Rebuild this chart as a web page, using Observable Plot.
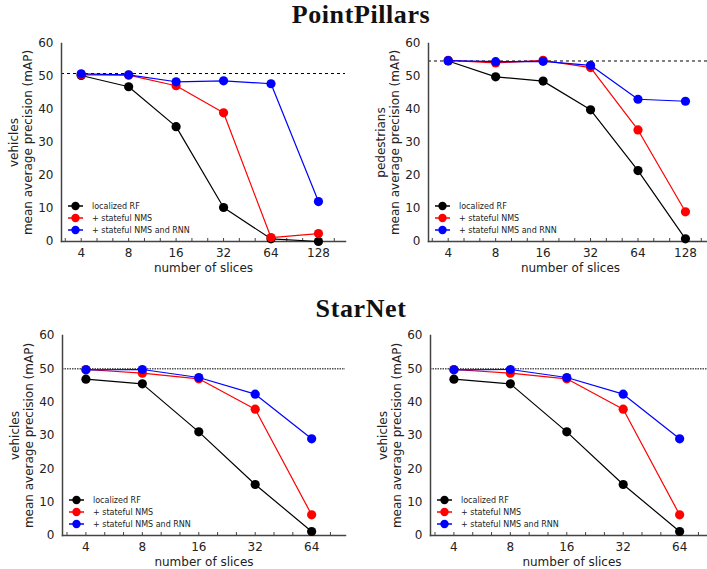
<!DOCTYPE html>
<html>
<head>
<meta charset="utf-8">
<script src="https://cdn.jsdelivr.net/npm/d3@7"></script>
<script src="https://cdn.jsdelivr.net/npm/@observablehq/plot@0.6"></script>
<style>
  html, body { margin: 0; padding: 0; background: #fff; overflow: hidden; }
  #root { position: relative; width: 707px; height: 569px; overflow: hidden; background: #fff; }
  .title { position: absolute; left: 0; width: 722px; text-align: center; font-family: "Liberation Serif", serif; font-weight: bold; font-size: 26px; letter-spacing: 0.6px; color: #111; line-height: 1; }
  .panel { position: absolute; width: 360px; }
  .panel svg { display: block; max-width: none !important; }
  .legend { position: absolute; }
</style>
</head>
<body>
<div id="root">
  <div class="title" style="top:2px">PointPillars</div>
  <div class="title" style="top:296px">StarNet</div>
</div>
<script>
// ---- data ----
const seriesNames = ["localized RF", "+ stateful NMS", "+ stateful NMS and RNN"];
const slicesPP = [4, 8, 16, 32, 64, 128];
const slicesSN = [4, 8, 16, 32, 64];

// PointPillars, vehicles
const ppVehRF  = [50.3, 46.9, 34.8, 10.3, 0.8, 0.0];
const ppVehNMS = [50.5, 50.4, 47.2, 39.0, 1.2, 2.4];
const ppVehRNN = [50.8, 50.5, 48.4, 48.7, 47.8, 12.1];
const ppVehRef = 50.9;

// PointPillars, pedestrians
const ppPedRF  = [54.7, 49.9, 48.6, 39.9, 21.5, 0.8];
const ppPedNMS = [54.9, 54.1, 54.9, 52.7, 33.8, 9.0];
const ppPedRNN = [54.8, 54.5, 54.6, 53.4, 43.1, 42.5];
const ppPedRef = 54.7;

// StarNet, vehicles
const snVehRF  = [46.9, 45.5, 31.1, 15.3, 1.2];
const snVehNMS = [49.8, 48.7, 47.0, 37.9, 6.2];
const snVehRNN = [49.7, 49.8, 47.4, 42.4, 29.0];
const snVehRef = 50.0;

const yTicks = [0, 10, 20, 30, 40, 50, 60];
const minorTicksPP = [3.17, 4, 5.04, 6.35, 8, 10.08, 12.7, 16, 20.16, 25.4, 32, 40.3, 50.8, 64, 80.6, 101.6, 128, 161.3];
const minorTicksSN = [3.17, 4, 5.04, 6.35, 8, 10.08, 12.7, 16, 20.16, 25.4, 32, 40.3, 50.8, 64, 80.6];

// ---- styles ----
const seriesColors = ["#000000", "#ff0000", "#0000ff"];
const axisColor = "#444";
const FONT = "DejaVu Sans";

function panel(opts) {
  const {slices, series, ref, refStroke, refDash, refWidth, ylabel, xDomain, marginLeft, marginTop, plotW, plotH, marginBottom, minor} = opts;
  const data = series.flatMap((vals, i) => vals.map((v, j) => ({slices: slices[j], map: v, s: seriesNames[i]})));
  const width = marginLeft + plotW + 6;
  const marks = [
    Plot.ruleY([ref], {stroke: refStroke, strokeDasharray: refDash, strokeWidth: refWidth}),
    Plot.axisX({ticks: minor, tickSize: -3, tickFormat: () => "", label: null, stroke: axisColor, strokeWidth: 1}),
    Plot.frame({anchor: "left", stroke: axisColor, strokeWidth: 1.5}),
    Plot.frame({anchor: "bottom", stroke: axisColor, strokeWidth: 1.5}),
    Plot.axisY({ticks: yTicks, tickSize: 0, tickPadding: 8, label: null, fontSize: 12}),
    Plot.axisX({ticks: slices, tickSize: 0, tickPadding: 7, tickFormat: d => String(d), fontSize: 12,
      label: "number of slices", labelAnchor: "center", labelOffset: 30, labelArrow: "none"}),
    Plot.text([ylabel], {frameAnchor: "left", textAnchor: "middle", lineAnchor: "middle", rotate: -90, dx: -41, fontSize: 12, lineHeight: 1.17, fill: "#222"})
  ];
  seriesNames.forEach((name, i) => {
    const d = data.filter(r => r.s === name);
    marks.push(Plot.line(d, {x: "slices", y: "map", stroke: seriesColors[i], strokeWidth: 1.2}));
    marks.push(Plot.dot(d, {x: "slices", y: "map", fill: seriesColors[i], r: 4.6}));
  });
  return Plot.plot({
    width,
    height: marginTop + plotH + marginBottom,
    marginLeft, marginRight: 6, marginTop, marginBottom,
    style: {fontFamily: FONT, fontSize: "12px", color: "#222", background: "transparent", overflow: "visible", maxWidth: "none"},
    x: {type: "log", base: 2, domain: xDomain},
    y: {domain: [0, 60]},
    marks
  });
}

function legend(container, left, top) {
  const svg = d3.select(container).append("svg")
    .attr("class", "legend")
    .style("left", left + "px").style("top", top + "px")
    .attr("width", 130).attr("height", 40);
  seriesNames.forEach((name, i) => {
    const g = svg.append("g").attr("transform", `translate(0,${6 + i * 12})`);
    g.append("line").attr("x1", 0).attr("x2", 15).attr("y1", 0).attr("y2", 0)
      .attr("stroke", seriesColors[i]).attr("stroke-width", 1.5);
    g.append("circle").attr("cx", 7.5).attr("cy", 0).attr("r", 4.2).attr("fill", seriesColors[i]);
    g.append("text").attr("x", 24).attr("y", 0).attr("dy", "0.35em")
      .attr("font-family", FONT).attr("font-size", 8).attr("fill", "#222").text(name);
  });
}

const root = document.getElementById("root");
function place(opts, left, top) {
  const div = document.createElement("div");
  div.className = "panel";
  div.style.left = left + "px";
  div.style.top = top + "px";
  div.appendChild(panel(opts));
  root.appendChild(div);
  legend(div, opts.marginLeft + 7, opts.marginTop + opts.plotH - 41);
}

const topCommon = {marginTop: 13, plotH: 198, marginBottom: 36, plotW: 284, marginLeft: 61, xDomain: [3, 190], slices: slicesPP, minor: minorTicksPP};
const botCommon = {marginTop: 15, plotH: 200, marginBottom: 34, plotW: 283, marginLeft: 62, xDomain: [3, 97], slices: slicesSN, minor: minorTicksSN};

place({...topCommon, series: [ppVehRF, ppVehNMS, ppVehRNN], ref: ppVehRef, refStroke: "#000", refDash: "3,3", refWidth: 1,
  ylabel: "vehicles\nmean average precision (mAP)"}, 0, 30);
place({...topCommon, series: [ppPedRF, ppPedNMS, ppPedRNN], ref: ppPedRef, refStroke: "#000", refDash: "3,3", refWidth: 1,
  ylabel: "pedestrians\nmean average precision (mAP)"}, 367, 30);
place({...botCommon, series: [snVehRF, snVehNMS, snVehRNN], ref: snVehRef, refStroke: "#555", refDash: "1.5,1", refWidth: 1.5,
  ylabel: "vehicles\nmean average precision (mAP)"}, 0, 320);
place({...botCommon, series: [snVehRF, snVehNMS, snVehRNN], ref: snVehRef, refStroke: "#555", refDash: "1.5,1", refWidth: 1.5,
  ylabel: "vehicles\nmean average precision (mAP)"}, 368, 320);
</script>
</body>
</html>
